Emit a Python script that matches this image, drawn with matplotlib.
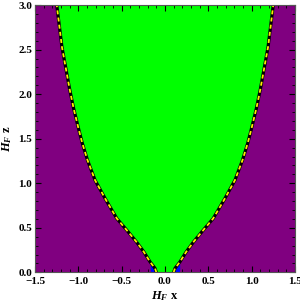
import numpy as np
import matplotlib.pyplot as plt
from matplotlib.ticker import MultipleLocator

# boundary of the green region (symmetric in x)
z_edge = [0.0, 0.045, 0.119, 0.231, 0.343, 0.449, 0.606, 0.83, 1.036, 1.26,
          1.45, 1.6, 1.84, 2.05, 2.53, 3.0]
x_edge = [0.10, 0.115, 0.173, 0.245, 0.33, 0.42, 0.557, 0.692, 0.808, 0.895,
          0.955, 0.995, 1.055, 1.10, 1.19, 1.25]

# small blue band just outside the edge near z = 0
z_blue = [0.0, 0.04, 0.08, 0.11]
x_blue_in = [0.10, 0.112, 0.14, 0.165]
x_blue_out = [0.165, 0.17, 0.17, 0.165]

x_ticks = [-1.5, -1.0, -0.5, 0.0, 0.5, 1.0, 1.5]
z_ticks = [0.0, 0.5, 1.0, 1.5, 2.0, 2.5, 3.0]

purple = "#800080"
green = "#00ff00"
blue = "#0000ff"

plt.rcParams["font.family"] = "Liberation Serif"
plt.rcParams["font.weight"] = "bold"
plt.rcParams["mathtext.fontset"] = "custom"
plt.rcParams["mathtext.it"] = "Liberation Serif:italic:bold"
plt.rcParams["mathtext.rm"] = "Liberation Serif:bold"

fig = plt.figure(figsize=(3.0, 3.02), dpi=100)
ax = fig.add_axes([0.117, 0.098, 0.866, 0.885])

ze = np.array(z_edge)
xe = np.array(x_edge)

ax.set_facecolor(purple)
ax.fill_betweenx(ze, -xe, xe, color=green, lw=0)
zb = np.array(z_blue)
ax.fill_betweenx(zb, x_blue_in, x_blue_out, color=blue, lw=0)
ax.fill_betweenx(zb, -np.array(x_blue_in), -np.array(x_blue_out), color=blue, lw=0)

for s in (-1, 1):
    ax.plot(s * xe, ze, color="black", lw=2.3, solid_capstyle="butt", solid_joinstyle="round")
    ax.plot(s * xe, ze, color="#ffee00", lw=1.3, dashes=(2.2, 1.8), dash_joinstyle="round")

ax.set_xlim(-1.5, 1.5)
ax.set_ylim(0, 3.0)
ax.set_xticks(x_ticks)
ax.set_yticks(z_ticks)
ax.set_xticklabels([f"{v:.1f}".replace("-", "\u2212") for v in x_ticks])
ax.set_yticklabels([f"{v:.1f}" for v in z_ticks])
ax.xaxis.set_minor_locator(MultipleLocator(0.1))
ax.yaxis.set_minor_locator(MultipleLocator(0.1))
ax.tick_params(which="both", direction="in", top=True, right=True, labelsize=8, pad=2)
ax.tick_params(axis="x", pad=3.5)
ax.tick_params(which="major", length=4, width=0.8)
ax.tick_params(which="minor", length=2, width=0.6)
for sp in ax.spines.values():
    sp.set_color("#555555")
    sp.set_linewidth(0.8)

ax.set_xlabel("$H_F$ x", fontsize=9, fontweight="bold", labelpad=2)
ax.set_ylabel("$H_F$ z", fontsize=9, fontweight="bold", labelpad=3)

fig.savefig("out.png", dpi=100)
